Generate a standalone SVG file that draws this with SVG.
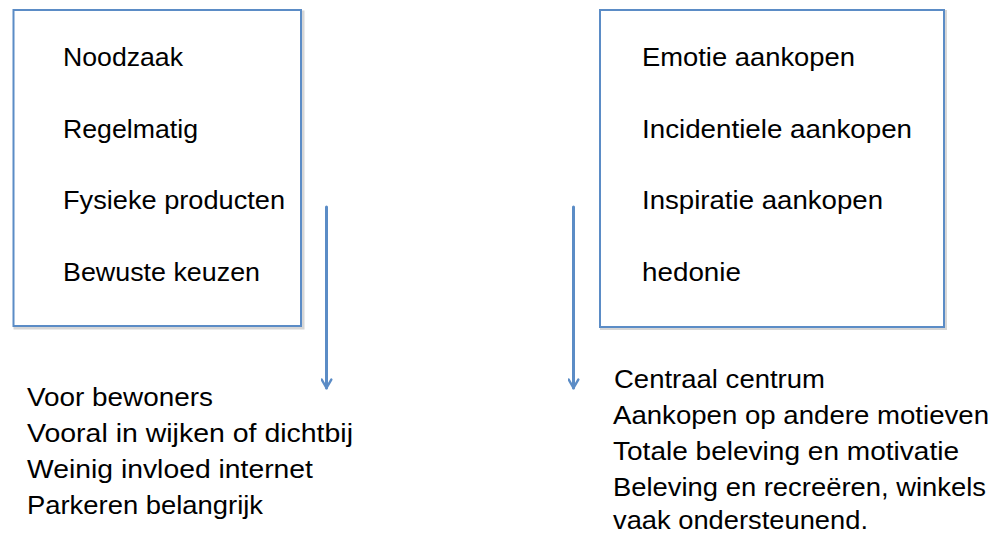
<svg xmlns="http://www.w3.org/2000/svg" width="995" height="535" viewBox="0 0 995 535">
<style>
  .box { fill: #ffffff; stroke: #5b8cc6; stroke-width: 2; }
  .shadow { fill: none; stroke: #d6d6d6; stroke-width: 3; }
  .t { font-family: "Liberation Sans", Arial, sans-serif; font-size: 26px; fill: #000000; }
  .conn { stroke: #5b8cc6; stroke-width: 3; fill: none; stroke-linecap: round; }
</style>
<defs>
  <marker id="chev" viewBox="0 0 10 10" refX="8" refY="5" markerWidth="4" markerHeight="4" orient="auto" markerUnits="strokeWidth">
    <path d="M1,1 L8,5 L1,9" fill="none" stroke="#5b8cc6" stroke-width="2" stroke-linecap="round" stroke-linejoin="round"/>
  </marker>
</defs>
<rect width="995" height="535" fill="#ffffff"/>

<g id="box-left">
  <rect class="shadow" x="15" y="12" width="288" height="316"/>
  <rect class="box" x="13.5" y="10" width="287.5" height="316"/>
  <text class="t" x="63" y="66" textLength="120" lengthAdjust="spacingAndGlyphs">Noodzaak</text>
  <text class="t" x="63" y="138" textLength="135" lengthAdjust="spacingAndGlyphs">Regelmatig</text>
  <text class="t" x="63" y="209" textLength="222" lengthAdjust="spacingAndGlyphs">Fysieke producten</text>
  <text class="t" x="63" y="281" textLength="197" lengthAdjust="spacingAndGlyphs">Bewuste keuzen</text>
</g>

<g id="box-right">
  <rect class="shadow" x="601.5" y="11.5" width="344" height="317"/>
  <rect class="box" x="600" y="10" width="344" height="317"/>
  <text class="t" x="642" y="66" textLength="213" lengthAdjust="spacingAndGlyphs">Emotie aankopen</text>
  <text class="t" x="642" y="138" textLength="270" lengthAdjust="spacingAndGlyphs">Incidentiele aankopen</text>
  <text class="t" x="642" y="209" textLength="241" lengthAdjust="spacingAndGlyphs">Inspiratie aankopen</text>
  <text class="t" x="642" y="281" textLength="99" lengthAdjust="spacingAndGlyphs">hedonie</text>
</g>

<g id="connectors">
  <line class="conn" x1="326.5" y1="207" x2="326.5" y2="388" marker-end="url(#chev)"/>
  <line class="conn" x1="573.5" y1="207" x2="573.5" y2="388" marker-end="url(#chev)"/>
</g>

<g id="text-left">
  <text class="t" x="27" y="406" textLength="186" lengthAdjust="spacingAndGlyphs">Voor bewoners</text>
  <text class="t" x="27" y="442" textLength="326" lengthAdjust="spacingAndGlyphs">Vooral in wijken of dichtbij</text>
  <text class="t" x="27" y="478" textLength="286" lengthAdjust="spacingAndGlyphs">Weinig invloed internet</text>
  <text class="t" x="27" y="514" textLength="236" lengthAdjust="spacingAndGlyphs">Parkeren belangrijk</text>
</g>

<g id="text-right">
  <text class="t" x="614" y="388" textLength="211" lengthAdjust="spacingAndGlyphs">Centraal centrum</text>
  <text class="t" x="613" y="424" textLength="376" lengthAdjust="spacingAndGlyphs">Aankopen op andere motieven</text>
  <text class="t" x="613" y="460" textLength="346" lengthAdjust="spacingAndGlyphs">Totale beleving en motivatie</text>
  <text class="t" x="613" y="496" textLength="373" lengthAdjust="spacingAndGlyphs">Beleving en recreëren, winkels</text>
  <text class="t" x="613" y="529" textLength="255" lengthAdjust="spacingAndGlyphs">vaak ondersteunend.</text>
</g>
</svg>
